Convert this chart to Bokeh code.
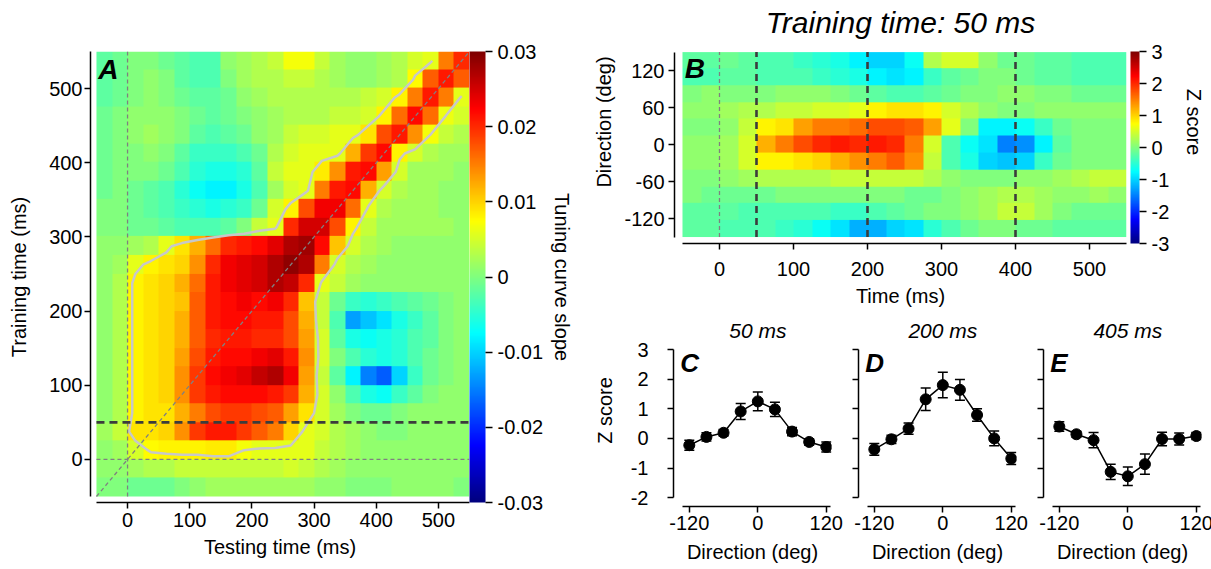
import numpy as np
from bokeh.plotting import figure
from bokeh.layouts import row, column
from bokeh.models import (LinearColorMapper, ColorBar, FixedTicker, PrintfTickFormatter,
                          Label, Title, Whisker, TeeHead, ColumnDataSource, Range1d)
from bokeh.embed import file_html
from bokeh.resources import INLINE

FONT = "Liberation Sans"

# ---------------- Panel A: tuning curve slope (x 1e-3), rows = training time (top -> bottom)
test_time_ms = [-37.5, -12.5, 12.5, 37.5, 62.5, 87.5, 112.5, 137.5, 162.5, 187.5, 212.5, 237.5,
                262.5, 287.5, 312.5, 337.5, 362.5, 387.5, 412.5, 437.5, 462.5, 487.5, 512.5, 537.5]
train_time_ms = [537.5, 512.5, 487.5, 462.5, 437.5, 412.5, 387.5, 362.5, 337.5, 312.5, 287.5, 262.5,
                 237.5, 212.5, 187.5, 162.5, 137.5, 112.5, 87.5, 62.5, 37.5, 12.5, -12.5, -37.5]
slope_x1000 = [
    [-2, -1, 0, 0, -1, -2, -3, -3, 1, 2, 3, 4, 6.8, 6.8, 4, 2, 1, 1, 2, 3, 5, 6, 15, 20],
    [-2, -1, 0, 1, 0, -2, -3, -3, 0, 2, 3, 3, 4, 4, 3, 2, 1, 1, 2, 3, 7.5, 17, 21, 17],
    [-2, -1, 0, 1, 0, -1, -2, -2, -1, 1, 2, 3, 3, 3, 3, 3, 3, 4, 5, 8, 15, 21, 15, 6],
    [-1, 0, 1, 1, 1, 0, -1, -2, -1, 0, 1, 2, 3, 3, 3, 4, 4, 5, 8, 16, 22, 16, 6.5, 5],
    [-1, 0, 1, 2, 1, 0, -2, -3, -2, -1, 1, 2, 4, 5, 5, 6, 6, 9, 18, 21, 14, 6.8, 4, 3],
    [-1, 0, 0, 1, 0, -2, -4, -4, -4, -3, -1, 3, 5, 6, 6, 6, 12, 19, 22, 8, 5, 3, 2, 2],
    [-1, 0, 0, 0, -1, -3, -5, -6, -6, -5, -2, 4, 6, 6, 8.5, 14, 21, 22, 13, 5, 2, 2, 2, 1],
    [-1, 0, -1, -2, -3, -5, -7, -8, -8, -6, -3, 2, 5, 6, 15, 21, 22, 12, 5, 3, 2, 2, 1, 1],
    [0, 0, -1, -2, -3, -4, -5, -6, -5, -4, -1, 5, 8, 18, 23, 23, 16, 6, 3, 2, 2, 2, 1, 1],
    [0, 0, -1, -1, -2, -3, -3, -3, -2, 0, 4, 6, 20, 25, 25, 18, 8, 4, 2, 2, 2, 2, 2, 1],
    [1, 1, 2, 3, 6, 9, 12, 16, 20, 21, 22, 24, 27, 28, 22, 11, 5, 3, 2, 1, 1, 1, 1, 1],
    [1, 2, 6, 8, 9, 10, 14, 20, 23, 24, 25, 27, 29, 27, 15, 5, 3, 2, 1, 1, 1, 1, 1, 1],
    [1, 3, 8, 9, 10, 12, 16, 21, 23, 24, 25, 27, 26, 20, 6, 4, 2, 1, 1, 1, 1, 1, 1, 1],
    [1, 3, 8, 9, 10, 11, 17, 21, 22, 23, 22, 23, 20, 11, 4, -1, -4, -5, -4, -3, -2, -1, 0, 1],
    [1, 3, 8, 9, 10, 12, 17, 21, 22, 22, 21, 21, 18, 12, 4, -3, -13, -11, -9, -6, -4, -2, 0, 1],
    [1, 3, 8, 9, 10, 12, 17, 20, 21, 21, 20, 20, 18, 13, 5, -2, -6, -7, -6, -5, -3, -2, 0, 1],
    [1, 3, 8, 9, 10, 13, 18, 21, 22, 22, 23, 24, 21, 14, 5, 0, -3, -5, -6, -5, -3, -1, 0, 1],
    [1, 3, 8, 9, 10, 14, 19, 22, 23, 24, 26, 27, 23, 13, 4, -2, -8, -15, -17, -10, -4, -1, 0, 1],
    [1, 3, 8, 9, 10, 14, 19, 21, 22, 22, 22, 21, 19, 12, 5, 1, -3, -6, -7, -4, -2, 0, 1, 1],
    [1, 3, 8, 9, 9, 12, 15, 18, 19, 19, 18, 17, 13, 9, 5, 2, 0, -1, -1, 0, 1, 1, 1, 1],
    [2, 4, 9, 9, 10, 14, 19, 21, 21, 19, 17, 15, 10, 6, 5, 3, 2, 1, 0, 0, 1, 1, 1, 1],
    [1, 2, 5, 7.5, 8, 8, 8, 8.5, 8.5, 7, 6, 6, 6, 6, 4, 3, 2, 1, 1, 1, 1, 1, 1, 1],
    [1, 1, 2, 3, 3, 4, 4, 4, 4, 4, 4, 4, 5, 4, 3, 2, 1, 1, 1, 1, 1, 1, 1, 1],
    [0, 0, -1, -1, -1, 0, 1, 2, 2, 2, 2, 2, 2, 2, 1, 1, 0, 0, 0, 1, 1, 1, 1, 0],
]
significance_level = 0.007
time_extent_ms = (-50, 550)
time_ticks_ms = [0, 100, 200, 300, 400, 500]
slope_ticks = [-0.03, -0.02, -0.01, 0, 0.01, 0.02, 0.03]
slope_range = (-0.03, 0.03)
zero_ms = 0
training_time_ms = 50

# ---------------- Panel B: z score, rows = direction (top -> bottom), columns = time
b_time_ms = test_time_ms
direction_extent_deg = (-150, 150)
direction_ticks_deg = [-120, -60, 0, 60, 120]
zscore_rows = [
    [-0.2, -0.2, -0.1, -0.2, -0.3, -0.3, -0.4, -0.5, -0.6, -0.8, -1.0, -1.0, -0.7, 0.3, 0.5, 0.5, 0.1, -0.1, -0.1, -0.2, -0.2, -0.3, -0.3, -0.3],
    [-0.3, -0.3, -0.2, -0.2, -0.3, -0.3, -0.3, -0.4, -0.5, -0.6, -0.8, -0.9, -0.8, -0.4, -0.2, -0.1, 0.0, 0.0, -0.1, -0.2, -0.2, -0.3, -0.3, -0.3],
    [0.0, 0.1, 0.0, 0.0, 0.0, 0.1, 0.1, 0.1, 0.0, -0.1, -0.2, -0.3, -0.3, -0.2, -0.1, 0.0, 0.0, 0.1, 0.1, 0.0, 0.0, -0.1, -0.1, -0.1],
    [0.1, 0.1, 0.2, 0.3, 0.3, 0.4, 0.4, 0.5, 0.5, 0.6, 0.8, 0.9, 0.9, 0.8, 0.5, 0.3, 0.1, 0.0, 0.0, 0.1, 0.1, 0.1, 0.1, 0.1],
    [0.0, 0.0, 0.1, 0.4, 0.8, 0.9, 1.3, 1.5, 1.5, 1.6, 1.8, 1.8, 1.7, 1.3, 0.6, 0.0, -0.8, -0.8, -0.7, -0.4, -0.1, 0.0, 0.0, 0.0],
    [0.1, 0.1, 0.2, 0.5, 1.2, 1.5, 1.8, 2.0, 2.1, 2.0, 2.1, 2.0, 1.5, 0.5, -0.3, -0.7, -0.9, -1.5, -1.4, -0.8, -0.2, 0.0, 0.0, 0.0],
    [0.1, 0.1, 0.2, 0.5, 0.8, 0.8, 0.9, 1.0, 1.2, 1.4, 1.5, 1.7, 1.4, 0.4, -0.3, -0.6, -1.0, -1.1, -1.0, -0.4, -0.1, 0.0, 0.0, 0.0],
    [0.0, 0.0, 0.1, 0.2, 0.3, 0.3, 0.3, 0.3, 0.4, 0.4, 0.4, 0.4, 0.4, 0.3, 0.1, 0.0, 0.0, 0.0, 0.1, 0.1, 0.2, 0.3, 0.4, 0.4],
    [0.0, -0.1, -0.1, -0.1, -0.1, 0.0, 0.0, 0.0, 0.0, 0.0, 0.0, 0.0, -0.1, -0.1, 0.0, 0.1, 0.2, 0.3, 0.3, 0.2, 0.1, 0.1, 0.2, 0.1],
    [-0.2, -0.2, -0.2, -0.3, -0.3, -0.3, -0.3, -0.3, -0.4, -0.4, -0.3, -0.2, -0.1, 0.0, 0.0, 0.1, 0.2, 0.4, 0.4, 0.2, 0.0, -0.1, -0.1, -0.1],
    [-0.2, -0.2, -0.3, -0.3, -0.3, -0.4, -0.5, -0.7, -0.9, -1.2, -1.2, -1.0, -0.9, -0.5, -0.3, -0.1, 0.0, 0.0, -0.1, -0.1, -0.2, -0.2, -0.2, -0.2],
]
zscore_range = (-3, 3)
zscore_ticks = [-3, -2, -1, 0, 1, 2, 3]
tuning_times_ms = [50, 200, 400]

# ---------------- Panels C-E: tuning curves
directions_deg = [-120, -90, -60, -30, 0, 30, 60, 90, 120]
z_50ms = [-0.23, 0.05, 0.19, 0.91, 1.25, 0.98, 0.23, -0.12, -0.29]
err_50ms = [0.17, 0.14, 0.11, 0.27, 0.32, 0.24, 0.14, 0.11, 0.17]
z_200ms = [-0.37, -0.03, 0.33, 1.32, 1.80, 1.64, 0.79, 0.0, -0.68]
err_200ms = [0.20, 0.14, 0.19, 0.38, 0.43, 0.35, 0.21, 0.25, 0.20]
z_405ms = [0.40, 0.14, -0.06, -1.13, -1.28, -0.87, -0.02, -0.02, 0.08]
err_405ms = [0.16, 0.10, 0.26, 0.26, 0.31, 0.34, 0.23, 0.20, 0.12]
dir_ticks_deg = [-120, 0, 120]
z_ticks = [-2, -1, 0, 1, 2, 3]
z_extent = (-2, 3)


def jet(n=256):
    cols = []
    for i in range(n):
        t = i / (n - 1)
        r = min(max(1.5 - abs(4 * t - 3), 0), 1)
        g = min(max(1.5 - abs(4 * t - 2), 0), 1)
        b = min(max(1.5 - abs(4 * t - 1), 0), 1)
        cols.append("#%02x%02x%02x" % (int(r * 255), int(g * 255), int(b * 255)))
    return cols


JET = jet()


def style_axis(ax, ticks, label_size="20px"):
    ax.ticker = FixedTicker(ticks=ticks)
    ax.formatter = PrintfTickFormatter(format="%g")
    ax.axis_line_width = 1.5
    ax.axis_line_color = "black"
    ax.major_tick_line_width = 1.5
    ax.major_tick_line_color = "black"
    ax.major_tick_out = 6
    ax.major_tick_in = 0
    ax.minor_tick_line_color = None
    ax.major_label_text_font = FONT
    ax.major_label_text_font_size = label_size
    ax.major_label_text_color = "black"
    ax.axis_label_text_font = FONT
    ax.axis_label_text_font_size = "20px"
    ax.axis_label_text_font_style = "normal"
    ax.axis_label_text_color = "black"


def base_fig(**kw):
    p = figure(output_backend="svg", toolbar_location=None, **kw)
    p.outline_line_color = None
    p.grid.visible = False
    p.background_fill_color = "white"
    p.border_fill_color = "white"
    return p


def letter(p, x, y, text, size="28px"):
    p.add_layout(Label(x=x, y=y, text=text, text_font=FONT, text_font_size=size,
                       text_color="black", text_font_style="bold italic",
                       text_baseline="top", text_align="left"))


def heading(p, x, y, text, size):
    p.add_layout(Label(x=x, y=y, text=text, text_font=FONT,
                       text_font_size=size, text_color="black", text_font_style="italic",
                       text_baseline="middle", text_align="center"))


# ======== Panel A
pa = base_fig(frame_width=379, frame_height=451,
              x_range=Range1d(-59.6, 550), y_range=Range1d(-58.1, 550),
              min_border_left=90, min_border_right=121, min_border_top=51, min_border_bottom=67,
              x_axis_label="Testing time (ms)", y_axis_label="Training time (ms)")
mapA = LinearColorMapper(palette=JET, low=slope_range[0], high=slope_range[1])
slope = np.array(slope_x1000, dtype=float) * 1e-3
slope_up = np.flipud(slope)
pa.image(image=[slope_up], x=time_extent_ms[0], y=time_extent_ms[0],
         dw=time_extent_ms[1] - time_extent_ms[0], dh=time_extent_ms[1] - time_extent_ms[0],
         color_mapper=mapA)
pa.contour(x=np.array(test_time_ms), y=np.array(train_time_ms[::-1]), z=slope_up,
           levels=[significance_level], fill_color=None, line_color="#c8c8c8", line_width=2.5)
thin = dict(line_color="#808080", line_width=1.3, line_dash="4 3")
pa.line(x=[zero_ms, zero_ms], y=list(time_extent_ms), **thin)
pa.line(x=list(time_extent_ms), y=[zero_ms, zero_ms], **thin)
pa.line(x=list(time_extent_ms), y=list(time_extent_ms), **thin)
pa.line(x=list(time_extent_ms), y=[training_time_ms, training_time_ms],
        line_color="#3c3c3c", line_width=2.6, line_dash="8 5")
style_axis(pa.xaxis[0], time_ticks_ms)
style_axis(pa.yaxis[0], time_ticks_ms)
pa.xaxis.bounds = time_extent_ms
pa.yaxis.bounds = time_extent_ms
pa.xaxis.major_label_standoff = 4
pa.yaxis.major_label_standoff = 2
pa.xaxis.axis_label_standoff = 6
pa.yaxis.axis_label_standoff = 16
letter(pa, -47, 547, "A")
cbA = ColorBar(color_mapper=mapA, ticker=FixedTicker(ticks=slope_ticks),
               formatter=PrintfTickFormatter(format="%g"), width=16, padding=0, margin=2,
               major_tick_in=0, major_tick_out=7, major_tick_line_color="black",
               major_tick_line_width=1.5, bar_line_color=None, label_standoff=5,
               major_label_text_font=FONT, major_label_text_font_size="20px",
               major_label_text_color="black", minor_tick_line_color=None)
pa.add_layout(cbA, "right")
pa.add_layout(Title(text="Tuning curve slope", align="center", text_font=FONT,
                    text_font_size="20px", text_font_style="normal", text_color="black",
                    standoff=8), "right")

# ======== Panel B (frame extended upward to hold the heading)
b_scale = 192 / (151 + 160.5)          # px per degree
b_top = 151 + 51 / b_scale
pb = base_fig(frame_width=452, frame_height=243,
              x_range=Range1d(-60.8, 550), y_range=Range1d(-160.5, b_top),
              min_border_left=82, min_border_right=87, min_border_top=0, min_border_bottom=71,
              x_axis_label="Time (ms)", y_axis_label="Direction (deg)")
mapB = LinearColorMapper(palette=JET, low=zscore_range[0], high=zscore_range[1])
zb = np.flipud(np.array(zscore_rows, dtype=float))
pb.image(image=[zb], x=time_extent_ms[0], y=direction_extent_deg[0],
         dw=time_extent_ms[1] - time_extent_ms[0],
         dh=direction_extent_deg[1] - direction_extent_deg[0], color_mapper=mapB)
pb.line(x=[zero_ms, zero_ms], y=list(direction_extent_deg), **thin)
for t in tuning_times_ms:
    pb.line(x=[t, t], y=list(direction_extent_deg), line_color="#3c3c3c", line_width=2.6,
            line_dash="7 5")
style_axis(pb.xaxis[0], time_ticks_ms)
style_axis(pb.yaxis[0], direction_ticks_deg)
pb.xaxis.bounds = time_extent_ms
pb.yaxis.bounds = direction_extent_deg
pb.xaxis.major_label_standoff = 12
pb.yaxis.major_label_standoff = 4
pb.xaxis.axis_label_standoff = 6
pb.yaxis.axis_label_standoff = 6
letter(pb, -47, 148, "B")
heading(pb, (pb.x_range.start + pb.x_range.end) / 2, 151 + 29 / b_scale,
        "Training time: %d ms" % training_time_ms, "30px")
cbB = ColorBar(color_mapper=mapB, ticker=FixedTicker(ticks=zscore_ticks),
               formatter=PrintfTickFormatter(format="%g"), width=9, padding=0, margin=10,
               major_tick_in=0, major_tick_out=7, major_tick_line_color="black",
               major_tick_line_width=1.5, bar_line_color=None, label_standoff=5,
               major_label_text_font=FONT, major_label_text_font_size="20px",
               major_label_text_color="black", minor_tick_line_color=None,
               height=192, location=(4, 0))
pb.add_layout(cbB, "right")
pb.add_layout(Title(text="Z score", align="center", text_font=FONT,
                    text_font_size="20px", text_font_style="normal", text_color="black",
                    standoff=20), "right")


# ======== Panels C, D, E (frame extended upward to hold the heading)
c_scale = 159 / (3.07 + 2.30)
c_top = 3.07 + 33 / c_scale


def tuning_panel(z, err, title, let, left_border, right_border, show_labels):
    p = base_fig(frame_width=158, frame_height=192,
                 x_range=Range1d(-147.7, 129.1), y_range=Range1d(-2.30, c_top),
                 min_border_left=left_border, min_border_right=right_border,
                 min_border_top=0, min_border_bottom=63,
                 x_axis_label="Direction (deg)",
                 y_axis_label="Z score" if show_labels else None)
    heading(p, 0, 3.07 + 17 / c_scale, title, "21px")
    src = ColumnDataSource(dict(d=directions_deg, z=z,
                                lo=[a - b for a, b in zip(z, err)],
                                hi=[a + b for a, b in zip(z, err)]))
    p.add_layout(Whisker(source=src, base="d", lower="lo", upper="hi", dimension="height",
                         line_color="black", line_width=1.5,
                         lower_head=TeeHead(size=10, line_width=1.5, line_color="black"),
                         upper_head=TeeHead(size=10, line_width=1.5, line_color="black")))
    p.line("d", "z", source=src, line_color="black", line_width=1.5)
    p.scatter("d", "z", source=src, size=11, color="black")
    style_axis(p.xaxis[0], dir_ticks_deg)
    style_axis(p.yaxis[0], z_ticks)
    p.xaxis.bounds = (-132, 127)
    p.yaxis.bounds = z_extent
    p.xaxis.major_label_standoff = 3
    p.xaxis.axis_label_standoff = 8
    if show_labels:
        p.yaxis.major_label_standoff = 19
        p.yaxis.axis_label_standoff = 12
    else:
        p.yaxis.formatter = PrintfTickFormatter(format="")
        p.yaxis.major_label_standoff = 0
    letter(p, -136, 3.05, let, size="26px")
    return p


pc = tuning_panel(z_50ms, err_50ms, "50 ms", "C", 80, 15, True)
pd_ = tuning_panel(z_200ms, err_200ms, "200 ms", "D", 12, 15, False)
pe = tuning_panel(z_405ms, err_405ms, "405 ms", "E", 12, 13, False)

layout = row(pa, column(pb, row(pc, pd_, pe)))
open("out.html", "w").write(file_html(layout, INLINE))
